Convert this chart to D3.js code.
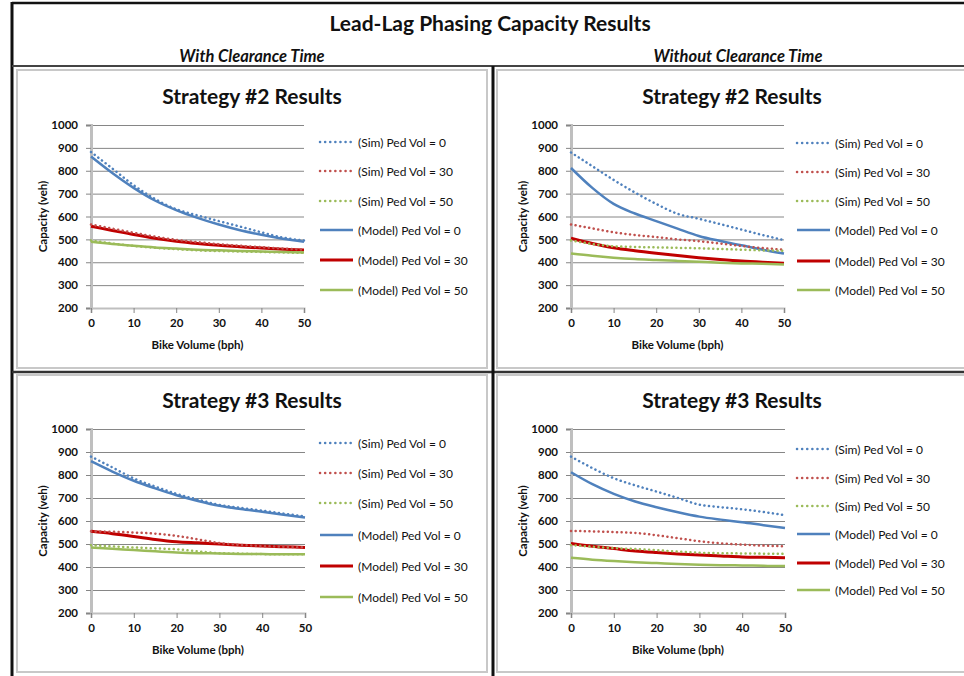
<!DOCTYPE html>
<html>
<head>
<meta charset="utf-8">
<script src="https://cdn.jsdelivr.net/npm/d3@7"></script>
<style>
  body { margin: 0; background: #fff; }
  svg { display: block; font-family: Lato, "Open Sans", sans-serif; }
</style>
</head>
<body>
<svg id="chart" width="964" height="676"></svg>
<script>
// bike volume (bph) at each reading
const bikeVolume = [0, 5, 10, 15, 20, 25, 30, 35, 40, 45, 50]
const xTicks = [0, 10, 20, 30, 40, 50]
const yTicks = [200, 300, 400, 500, 600, 700, 800, 900, 1000]

const seriesLabels = [
  "(Sim) Ped Vol = 0", "(Sim) Ped Vol = 30", "(Sim) Ped Vol = 50",
  "(Model) Ped Vol = 0", "(Model) Ped Vol = 30", "(Model) Ped Vol = 50"
]

// Strategy #2, with clearance time
const s2WithSim0 = [882, 810, 737, 677, 632, 605, 580, 556, 531, 508, 495]
const s2WithSim30 = [565, 547, 529, 512, 498, 488, 479, 472, 466, 460, 455]
const s2WithSim50 = [495, 482, 471, 463, 457, 452, 449, 447, 445, 443, 441]
const s2WithModel0 = [862, 790, 725, 670, 628, 594, 565, 540, 520, 503, 490]
const s2WithModel30 = [557, 539, 521, 505, 492, 482, 474, 468, 462, 457, 453]
const s2WithModel50 = [490, 480, 472, 465, 460, 455, 452, 449, 447, 445, 443]

// Strategy #2, without clearance time
const s2WithoutSim0 = [880, 820, 760, 705, 655, 612, 590, 567, 543, 519, 497]
const s2WithoutSim30 = [565, 548, 531, 519, 510, 500, 492, 482, 471, 462, 455]
const s2WithoutSim50 = [495, 480, 470, 467, 465, 463, 461, 458, 455, 452, 450]
const s2WithoutModel0 = [812, 725, 655, 613, 580, 547, 515, 493, 474, 455, 438]
const s2WithoutModel30 = [505, 482, 463, 450, 439, 429, 420, 412, 405, 400, 396]
const s2WithoutModel50 = [438, 428, 420, 414, 410, 406, 402, 398, 395, 393, 390]

// Strategy #3, with clearance time
const s3WithSim0 = [880, 833, 785, 750, 718, 693, 670, 657, 645, 632, 620]
const s3WithSim30 = [555, 553, 550, 545, 535, 520, 504, 496, 491, 488, 485]
const s3WithSim50 = [495, 490, 485, 481, 477, 468, 460, 458, 456, 455, 455]
const s3WithModel0 = [860, 815, 775, 742, 712, 687, 666, 652, 640, 627, 615]
const s3WithModel30 = [555, 545, 533, 520, 510, 505, 500, 495, 491, 488, 485]
const s3WithModel50 = [485, 479, 474, 468, 463, 460, 459, 457, 456, 455, 455]

// Strategy #3, without clearance time
const s3WithoutSim0 = [880, 830, 786, 755, 728, 700, 671, 660, 651, 639, 625]
const s3WithoutSim30 = [557, 555, 552, 548, 538, 525, 512, 503, 497, 493, 490]
const s3WithoutSim50 = [495, 488, 482, 478, 473, 467, 462, 460, 459, 458, 457]
const s3WithoutModel0 = [812, 760, 718, 685, 660, 638, 619, 606, 595, 582, 570]
const s3WithoutModel30 = [502, 490, 480, 470, 463, 457, 452, 448, 444, 442, 440]
const s3WithoutModel50 = [440, 432, 426, 421, 417, 413, 410, 408, 407, 405, 404]

const blue = "#4f81bd", red = "#c00000", green = "#9bbb59"
const simRed = "#c0504d"

const lineStyles = [
  { color: blue, width: 2.5, dash: "0.1 4.5" },
  { color: simRed, width: 2.5, dash: "0.1 4.5" },
  { color: green, width: 2.5, dash: "0.1 4.5" },
  { color: blue, width: 2.5, dash: null },
  { color: red, width: 3, dash: null },
  { color: green, width: 2.5, dash: null }
]

const panels = [
  { title: "Strategy #2 Results", left: 91, top: 125, width: 213, height: 183,
    legendX: 320, legendY: [142, 171, 201, 230, 260, 290],
    series: [s2WithSim0, s2WithSim30, s2WithSim50, s2WithModel0, s2WithModel30, s2WithModel50] },
  { title: "Strategy #2 Results", left: 571, top: 125, width: 213, height: 183,
    legendX: 797, legendY: [143, 172, 201, 230, 261, 290],
    series: [s2WithoutSim0, s2WithoutSim30, s2WithoutSim50, s2WithoutModel0, s2WithoutModel30, s2WithoutModel50] },
  { title: "Strategy #3 Results", left: 91, top: 429, width: 214, height: 184,
    legendX: 320, legendY: [443, 473, 503, 535, 566, 597],
    series: [s3WithSim0, s3WithSim30, s3WithSim50, s3WithModel0, s3WithModel30, s3WithModel50] },
  { title: "Strategy #3 Results", left: 571, top: 429, width: 214, height: 184,
    legendX: 797, legendY: [449, 478, 506, 534, 563, 590],
    series: [s3WithoutSim0, s3WithoutSim30, s3WithoutSim50, s3WithoutModel0, s3WithoutModel30, s3WithoutModel50] }
]

const svg = d3.select("#chart")

// table frame
const frame = svg.append("g")
frame.append("line").attr("x1", 12).attr("x2", 964).attr("y1", 3).attr("y2", 3)
  .attr("stroke", "#111").attr("stroke-width", 2.5)
frame.append("line").attr("x1", 12).attr("x2", 12).attr("y1", 2).attr("y2", 676)
  .attr("stroke", "#111").attr("stroke-width", 3)
frame.append("line").attr("x1", 12).attr("x2", 964).attr("y1", 66).attr("y2", 66)
  .attr("stroke", "#444").attr("stroke-width", 2)
frame.append("line").attr("x1", 12).attr("x2", 964).attr("y1", 372).attr("y2", 372)
  .attr("stroke", "#333").attr("stroke-width", 2.5)
frame.append("line").attr("x1", 493).attr("x2", 493).attr("y1", 66).attr("y2", 676)
  .attr("stroke", "#111").attr("stroke-width", 3)

// chart area borders
const boxes = [[17, 70, 470, 298], [497, 70, 470, 298], [17, 375, 470, 297], [497, 375, 470, 297]]
boxes.forEach(b => {
  frame.append("rect").attr("x", b[0]).attr("y", b[1]).attr("width", b[2]).attr("height", b[3])
    .attr("fill", "none").attr("stroke", "#c8c8c8").attr("stroke-width", 2)
})

svg.append("text").attr("x", 490).attr("y", 31).attr("text-anchor", "middle")
  .attr("font-size", 21).attr("font-weight", "bold").attr("fill", "#111")
  .text("Lead-Lag Phasing Capacity Results")
svg.append("text").attr("x", 252).attr("y", 62).attr("text-anchor", "middle")
  .attr("font-size", 16.5).attr("font-weight", "bold").attr("font-style", "italic").attr("fill", "#111")
  .text("With Clearance Time")
svg.append("text").attr("x", 738).attr("y", 62).attr("text-anchor", "middle")
  .attr("font-size", 16.5).attr("font-weight", "bold").attr("font-style", "italic").attr("fill", "#111")
  .text("Without Clearance Time")

panels.forEach(p => {
  const g = svg.append("g").attr("transform", `translate(${p.left},${p.top})`)

  const xScale = d3.scaleLinear().domain([0, 50]).range([0, p.width])
  const yScale = d3.scaleLinear().domain([200, 1000]).range([p.height, 0])

  // gridlines
  g.append("g")
    .call(d3.axisLeft(yScale).tickValues(yTicks).tickSize(-p.width).tickFormat(""))
    .call(a => a.select(".domain").remove())
    .call(a => a.selectAll(".tick line").attr("stroke", "#868686"))

  // y axis
  const yAxis = g.append("g")
    .call(d3.axisLeft(yScale).tickValues(yTicks).tickSize(5).tickPadding(8).tickFormat(d3.format("d")))
  yAxis.select(".domain").attr("stroke", "#bfbfbf").attr("stroke-width", 3)
  yAxis.selectAll(".tick line").attr("stroke", "#868686")
  yAxis.selectAll(".tick text").attr("font-family", "Lato").attr("font-size", 11.5)
    .attr("font-weight", "bold").attr("fill", "#111")

  // x axis
  const xAxis = g.append("g").attr("transform", `translate(0,${p.height})`)
    .call(d3.axisBottom(xScale).tickValues(xTicks).tickSize(5).tickPadding(6))
  xAxis.select(".domain").attr("stroke", "#bfbfbf").attr("stroke-width", 2)
  xAxis.selectAll(".tick line").attr("stroke", "#868686")
  xAxis.selectAll(".tick text").attr("font-family", "Lato").attr("font-size", 11.5)
    .attr("font-weight", "bold").attr("fill", "#111")

  // series
  const line = d3.line()
    .x((d, i) => xScale(bikeVolume[i]))
    .y(d => yScale(d))
    .curve(d3.curveMonotoneX)

  const order = [3, 4, 5, 0, 1, 2]
  order.forEach(k => {
    const st = lineStyles[k]
    g.append("path")
      .attr("d", line(p.series[k]))
      .attr("fill", "none")
      .attr("stroke", st.color)
      .attr("stroke-width", st.width)
      .attr("stroke-linecap", st.dash ? "round" : "butt")
      .attr("stroke-dasharray", st.dash)
  })

  // titles
  svg.append("text").attr("x", p.left + 161).attr("y", p.top - 21).attr("text-anchor", "middle")
    .attr("font-size", 21).attr("font-weight", "bold").attr("fill", "#111").text(p.title)
  svg.append("text").attr("x", p.left + p.width / 2).attr("y", p.top + p.height + 41)
    .attr("text-anchor", "middle").attr("font-size", 11.5).attr("font-weight", "bold").attr("fill", "#111")
    .text("Bike Volume (bph)")
  svg.append("text")
    .attr("transform", `translate(${p.left - 44},${p.top + p.height / 2}) rotate(-90)`)
    .attr("text-anchor", "middle").attr("font-size", 11.5).attr("font-weight", "bold").attr("fill", "#111")
    .text("Capacity (veh)")

  // legend
  seriesLabels.forEach((label, k) => {
    const st = lineStyles[k]
    const y = p.legendY[k]
    svg.append("line").attr("x1", p.legendX).attr("x2", p.legendX + 33)
      .attr("y1", y).attr("y2", y)
      .attr("stroke", st.color).attr("stroke-width", st.dash ? 2.5 : st.width)
      .attr("stroke-linecap", st.dash ? "round" : "butt")
      .attr("stroke-dasharray", st.dash ? "0.1 5" : null)
    svg.append("text").attr("x", p.legendX + 38).attr("y", y + 4.5)
      .attr("font-size", 12).attr("fill", "#111").text(label)
  })
})
</script>
</body>
</html>
